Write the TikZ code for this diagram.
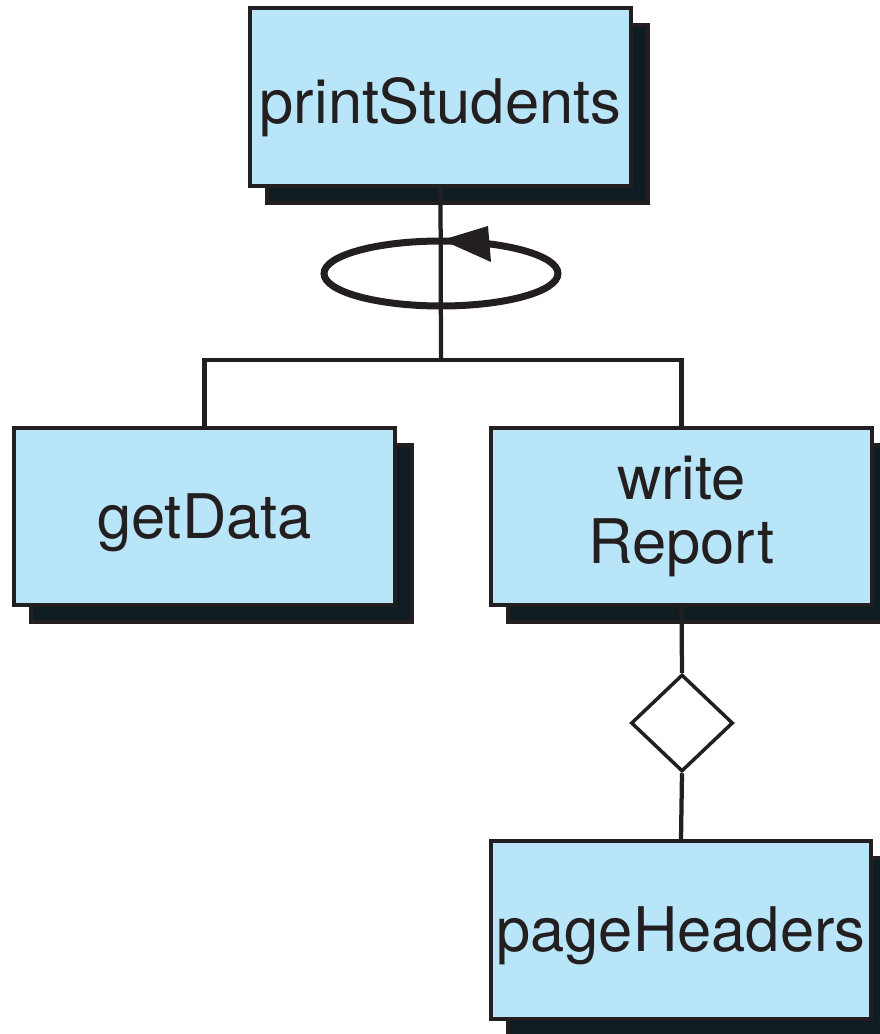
\documentclass[tikz,border=0pt]{standalone}
\usepackage{fontspec}
\setmainfont{TeX Gyre Heros}
\usetikzlibrary{shapes.geometric,shadows}
\definecolor{boxfill}{RGB}{185,229,249}
\definecolor{ink}{RGB}{35,31,32}
\definecolor{shade}{RGB}{15,29,35}

\begin{document}
\begin{tikzpicture}[x=0.02cm,y=-0.02cm,
  module/.style={draw=ink, fill=boxfill, text=ink, line width=0.08cm,
    minimum width=7.62cm, minimum height=3.56cm, inner sep=0pt,
    align=center, font=\fontsize{35}{36}\selectfont,
    copy shadow={shadow xshift=0.34cm, shadow yshift=-0.34cm,
      fill=shade, draw=ink}},
  oneline/.style={text height=0.86cm, text depth=0pt},
  conn/.style={draw=ink, line width=0.085cm},
  choice/.style={diamond, draw=ink, fill=white, line width=0.07cm,
    minimum width=2.04cm, minimum height=1.94cm, inner sep=0pt}]
  \useasboundingbox (0,0) rectangle (879,1034);

  % modules
  \node[module, text height=1.08cm, text depth=0pt] (ps) at (440.5,97) {printStudents};
  \node[module, oneline] (gd) at (204.5,516.5) {getData};
  \node[module] (wr) at (681.5,516.5) {write\\Report};
  \node[module, oneline] (ph) at (681,930) {pageHeaders};

  % selection diamond
  \node[choice] (dm) at (682,723) {};

  % branch point of the call tree
  \coordinate (bar) at (441,360);

  % connectors
  \draw[conn] (ps.south) -- (bar);
  \draw[conn] (gd.north) |- (bar) -| (wr.north);
  \draw[conn] (wr.south) -- (dm.north);
  \draw[conn] (dm.south) -- (ph.north);

  % iteration loop
  \draw[ink, line width=0.14cm] (441,273.5) ellipse [x radius=2.34cm, y radius=0.65cm];
  \fill[ink] (442,240) -- (488,226) -- (491,262) -- cycle;
\end{tikzpicture}
\end{document}
